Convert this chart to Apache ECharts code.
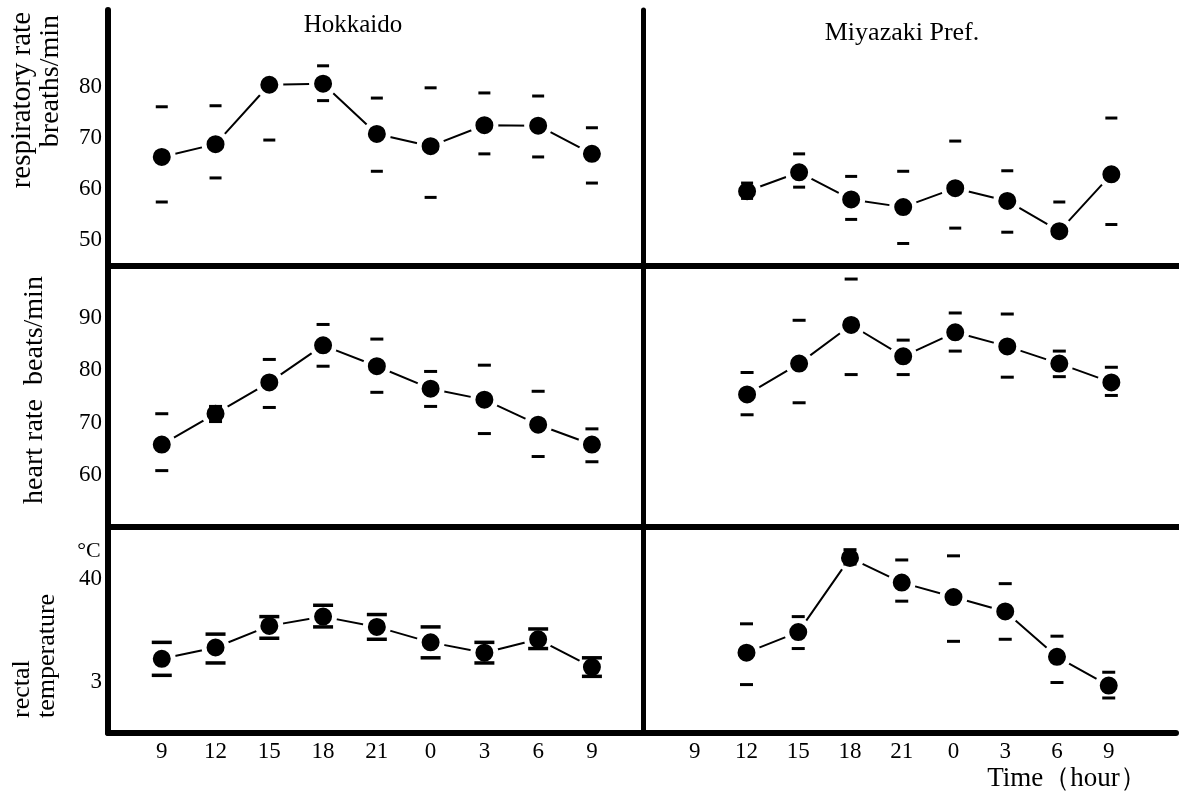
<!DOCTYPE html>
<html>
<head>
<meta charset="utf-8">
<script src="https://cdn.jsdelivr.net/npm/echarts@6/dist/echarts.min.js"></script>
<style>
html,body{margin:0;padding:0;background:#fff;}
#chart{width:1179px;height:792px;}
</style>
</head>
<body>
<div id="chart"></div>
<script>
// ---- data ----
const hours = ['9','12','15','18','21','0','3','6','9'];

const respHokMean  = [66.3, 68.8, 80.4, 80.6, 70.8, 68.4, 72.5, 72.4, 66.9];
const respHokUpper = [76.1, 76.3, null, 84.1, 77.8, 79.8, 78.8, 78.2, 72.0];
const respHokLower = [57.5, 62.2, 69.6, 77.3, 63.5, 58.4, 66.9, 66.3, 61.2];

const respMiyMean  = [null, 59.6, 63.3, 58.0, 56.5, 60.2, 57.7, 51.8, 62.9];
const respMiyUpper = [null, 61.2, 66.9, 62.5, 63.5, 69.4, 63.6, 57.5, 73.9];
const respMiyLower = [null, 58.2, 60.4, 54.1, 49.4, 52.4, 51.6, null, 53.1];

const heartHokMean  = [65.8, 71.7, 77.7, 84.8, 80.8, 76.5, 74.4, 69.6, 65.8];
const heartHokUpper = [71.7, 73.1, 82.1, 88.8, 86.0, 79.8, 81.0, 76.0, 68.8];
const heartHokLower = [60.8, 70.2, 72.9, 80.8, 75.8, 73.1, 67.9, 63.5, 62.5];

const heartMiyMean  = [null, 75.4, 81.3, 88.7, 82.7, 87.3, 84.6, 81.3, 77.7];
const heartMiyUpper = [null, 79.6, 89.6, 97.5, 85.8, 91.0, 90.8, 83.7, 80.6];
const heartMiyLower = [null, 71.5, 73.8, 79.2, 79.2, 83.7, 78.7, 78.8, 75.2];

const tempHokMean  = [39.22, 39.33, 39.54, 39.63, 39.53, 39.38, 39.28, 39.41, 39.14];
const tempHokUpper = [39.38, 39.46, 39.63, 39.74, 39.65, 39.53, 39.38, 39.51, 39.23];
const tempHokLower = [39.06, 39.18, 39.42, 39.53, 39.41, 39.23, 39.18, 39.32, 39.05];

const tempMiyMean  = [null, 39.28, 39.48, 40.20, 39.96, 39.82, 39.68, 39.24, 38.96];
const tempMiyUpper = [null, 39.56, 39.63, 40.28, 40.18, 40.22, 39.95, 39.44, 39.09];
const tempMiyLower = [null, 38.97, 39.32, 40.14, 39.78, 39.39, 39.41, 38.99, 38.84];

const respTicks = [50, 60, 70, 80];
const respTickText = ['50', '60', '70', '80'];
const heartTicks = [60, 70, 80, 90];
const heartTickText = ['60', '70', '80', '90'];
const tempTicks = [39, 40];
const tempTickText = ['3', '40'];

// ---- chart ----
const FONT = '"Liberation Serif", "DejaVu Serif", serif';
const chart = echarts.init(document.getElementById('chart'), null, {renderer: 'canvas'});

const grids = [
  {left:108, top:10,  width:535, height:256},
  {left:643, top:10,  width:536, height:256},
  {left:108, top:266, width:535, height:261},
  {left:643, top:266, width:536, height:261},
  {left:108, top:527, width:535, height:206},
  {left:643, top:527, width:536, height:206}
];

function xAxisFor(i) {
  const isLeft = i % 2 === 0;
  const isBottom = i >= 4;
  return {
    type: 'value', gridIndex: i,
    min: -1, max: isLeft ? 8.95 : 9.3, interval: 1,
    axisLine: {show: true, onZero: false, lineStyle: {color: '#000', width: 6}},
    axisTick: {show: false},
    splitLine: {show: false},
    axisLabel: {
      show: isBottom, margin: 7, color: '#000', fontSize: 23, fontFamily: FONT,
      showMinLabel: true, showMaxLabel: true,
      formatter: v => (Math.abs(v - Math.round(v)) < 1e-6 && v >= 0 && v <= 8) ? hours[Math.round(v)] : ''
    }
  };
}

const yCfg = [
  {min:45, max:95, interval:5, ticks:respTicks, text:respTickText},
  {min:50, max:100, interval:10, ticks:heartTicks, text:heartTickText},
  {min:38.5, max:40.5, interval:0.5, ticks:tempTicks, text:tempTickText}
];

function yAxisFor(i) {
  const isLeft = i % 2 === 0;
  const c = yCfg[Math.floor(i / 2)];
  return {
    type: 'value', gridIndex: i, min: c.min, max: c.max, interval: c.interval,
    axisLine: {show: true, onZero: false, lineStyle: {color: '#000', width: isLeft ? 6 : 5}},
    axisTick: {show: false},
    splitLine: {show: false},
    axisLabel: {
      show: isLeft, margin: 6, color: '#000', fontSize: 23, fontFamily: FONT,
      formatter: v => {
        const k = c.ticks.findIndex(t => Math.abs(t - v) < 1e-6);
        return k >= 0 ? c.text[k] : '';
      }
    }
  };
}

const panels = [
  [respHokMean, respHokUpper, respHokLower, [12, 3]],
  [respMiyMean, respMiyUpper, respMiyLower, [12, 3]],
  [heartHokMean, heartHokUpper, heartHokLower, [13, 3]],
  [heartMiyMean, heartMiyUpper, heartMiyLower, [13, 3]],
  [tempHokMean, tempHokUpper, tempHokLower, [20, 3.5]],
  [tempMiyMean, tempMiyUpper, tempMiyLower, [13, 3]]
];

const toPairs = arr => arr.map((v, i) => v == null ? null : [i, v]).filter(d => d !== null);
const toLinePairs = arr => arr.map((v, i) => [i, v == null ? '-' : v]);

const series = [];
panels.forEach((p, i) => {
  series.push({
    type: 'line', xAxisIndex: i, yAxisIndex: i,
    data: toLinePairs(p[0]),
    symbol: 'circle', symbolSize: 23,
    lineStyle: {color: '#000', width: 2},
    itemStyle: {color: '#000', borderColor: '#fff', borderWidth: 5, opacity: 1},
    emphasis: {disabled: true}, z: 2
  });
  [p[1], p[2]].forEach(arr => {
    series.push({
      type: 'scatter', xAxisIndex: i, yAxisIndex: i,
      data: toPairs(arr),
      symbol: 'rect', symbolSize: p[3],
      itemStyle: {color: '#000', opacity: 1},
      emphasis: {disabled: true}, z: 5
    });
  });
});

function txt(x, y, text, size, opts) {
  opts = opts || {};
  return {
    type: 'text', x: x, y: y, rotation: opts.rot || 0, z: 10,
    style: {
      text: text, fill: '#000', font: size + 'px ' + FONT,
      align: opts.align || 'center', textAlign: opts.align || 'center',
      verticalAlign: 'middle', textVerticalAlign: 'middle'
    }
  };
}

const R = Math.PI / 2;
const option = {
  animation: false,
  backgroundColor: '#fff',
  grid: grids,
  xAxis: grids.map((g, i) => xAxisFor(i)),
  yAxis: grids.map((g, i) => yAxisFor(i)),
  series: series,
  graphic: [
    txt(353, 25, 'Hokkaido', 25),
    txt(902, 33, 'Miyazaki Pref.', 26),
    txt(22, 12, 'respiratory rate', 29, {rot: R, align: 'right'}),
    txt(51, 15, 'breaths/min', 28, {rot: R, align: 'right'}),
    txt(35, 390, 'heart rate  beats/min', 28, {rot: R}),
    txt(89, 551, '°C', 22),
    txt(22, 718, 'rectal', 26, {rot: R, align: 'left'}),
    txt(47, 718, 'temperature', 26, {rot: R, align: 'left'}),
    txt(1067, 779, 'Time（hour）', 27)
  ]
};
chart.setOption(option);
</script>
</body>
</html>
